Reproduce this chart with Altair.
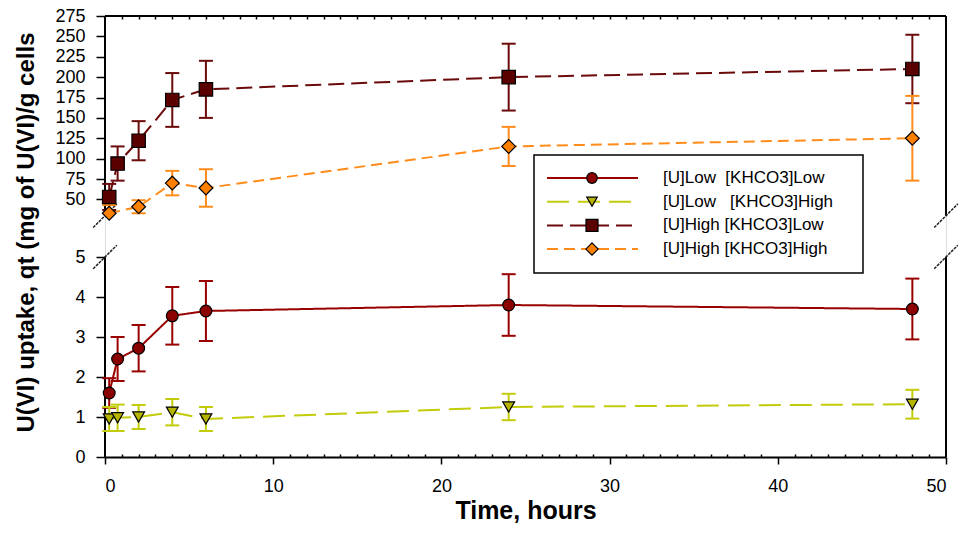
import altair as alt
import pandas as pd

# ---------------- data ----------------
hours = [0.25, 0.75, 2, 4, 6, 24, 48]
hours_hh = [0.25, 2, 4, 6, 24, 48]

ul_kl = [1.6, 2.45, 2.72, 3.53, 3.65, 3.8, 3.7]
ul_kl_err = [0.37, 0.55, 0.58, 0.72, 0.75, 0.77, 0.76]

ul_kh = [0.95, 0.98, 1.0, 1.12, 0.95, 1.25, 1.32]
ul_kh_err = [0.3, 0.33, 0.3, 0.33, 0.3, 0.33, 0.36]

uh_kl = [53, 94, 122, 172, 185, 200, 210]
uh_kl_err = [16, 21, 24, 33, 35, 41, 42]

uh_kh = [33, 41, 70, 64, 115, 125]
uh_kh_err = [10, 8, 15, 23, 24, 52]

series_names = [
    "[U]Low\u00a0\u00a0[KHCO3]Low",
    "[U]Low\u00a0\u00a0\u00a0[KHCO3]High",
    "[U]High\u00a0[KHCO3]Low",
    "[U]High\u00a0[KHCO3]High",
]

x_ticks_major = [0, 10, 20, 30, 40, 50]
y_ticks = [0, 1, 2, 3, 4, 5, 50, 75, 100, 125, 150, 175, 200, 225, 250, 275]
y_domain = [0, 5, 30, 275]          # broken axis: 0-5 and 30-275
minor_hours = list(range(1, 50))

# ---------------- styles ----------------
styles = [
    dict(line="#990000", fill="#8B0000", shape="circle", size=140, dash=[1, 0]),
    dict(line="#C3CC0A", fill="#B5B500", shape="triangle-down", size=140, dash=[22, 9]),
    dict(line="#6B0A0A", fill="#5A0000", shape="square", size=180, dash=[16, 7]),
    dict(line="#FF8C1A", fill="#FF8000", shape="diamond", size=190, dash=[11, 6]),
]

FONT = "Liberation Sans"
W, H = 841, 441
X_SCALE = alt.Scale(domain=[0, 50], nice=False, zero=False)
Y_SCALE = alt.Scale(type="linear", domain=y_domain, range=[H, 241, 199.7, 0],
                    nice=False, zero=False)

X_AXIS = alt.Axis(values=x_ticks_major, tickSize=7, tickWidth=1.5, tickColor="black",
                  domain=True, domainColor="black", domainWidth=2, grid=False,
                  labelFont=FONT, labelFontSize=18, labelColor="black", labelPadding=13,
                  title="Time, hours", titleFont=FONT, titleFontSize=25,
                  titleFontWeight="bold", titleColor="black", titlePadding=3)
Y_AXIS = alt.Axis(values=y_ticks, tickSize=9, tickWidth=1.5, tickColor="black",
                  domain=False, grid=False, format="d",
                  labelFont=FONT, labelFontSize=18, labelColor="black", labelPadding=11,
                  title="U(VI) uptake, qt (mg of U(VI)/g cells",
                  titleFont=FONT, titleFontSize=24, titleFontWeight="bold",
                  titleColor="black", titleX=-79, titleY=216, titleBaseline="middle",
                  titleAngle=-90)


def make_df(ts, vs, es, upper):
    rows = []
    for t, v, e in zip(ts, vs, es):
        lo = v - e
        show_lo = True
        if upper and lo < y_domain[2]:
            lo = y_domain[2]
            show_lo = False
        rows.append(dict(t=t, v=v, lo=lo, hi=v + e, show_lo=show_lo))
    return pd.DataFrame(rows)


dfs = [
    make_df(hours, ul_kl, ul_kl_err, False),
    make_df(hours, ul_kh, ul_kh_err, False),
    make_df(hours, uh_kl, uh_kl_err, True),
    make_df(hours_hh, uh_kh, uh_kh_err, True),
]


def xenc(field="t"):
    return alt.X(f"{field}:Q", scale=X_SCALE, axis=X_AXIS)


def yenc(field="v"):
    return alt.Y(f"{field}:Q", scale=Y_SCALE, axis=Y_AXIS)


layers = []
# frame lines (broken axes)
frame = pd.DataFrame(dict(x=[0, 0, 50, 50], y0=[0, 30, 0, 30], y1=[5, 275, 5, 275]))
layers.append(alt.Chart(frame).mark_rule(color="black", strokeWidth=2).encode(
    x=xenc("x"), y=yenc("y0"), y2="y1"))
top_line = pd.DataFrame(dict(x0=[0], x1=[50], y=[275]))
layers.append(alt.Chart(top_line).mark_rule(color="black", strokeWidth=2).encode(
    x=xenc("x0"), x2="x1", y=yenc("y")))

# break marks
brk = pd.DataFrame(dict(x=[0, 0, 50, 50], y=[5, 30, 5, 30]))
layers.append(alt.Chart(brk).mark_point(shape="M-1,1L1,-1", size=560, filled=False,
                                         stroke="#222222", strokeWidth=1.5, opacity=1,
                                         strokeDash=[3, 1]).encode(
    x=xenc("x"), y=yenc("y")))

# data series
for df, st in zip(dfs, styles):
    layers.append(alt.Chart(df).mark_line(color=st["line"], strokeWidth=2,
                                          strokeDash=st["dash"]).encode(x=xenc(), y=yenc()))
for df, st in zip(dfs, styles):
    base = alt.Chart(df)
    layers.append(base.mark_rule(color=st["line"], strokeWidth=2).encode(
        x=xenc(), y=yenc("lo"), y2="hi"))
    layers.append(base.mark_tick(color=st["line"], orient="horizontal", size=14,
                                 thickness=2, opacity=1).encode(x=xenc(), y=yenc("hi")))
    layers.append(base.transform_filter("datum.show_lo").mark_tick(
        color=st["line"], orient="horizontal", size=14, thickness=2, opacity=1).encode(
        x=xenc(), y=yenc("lo")))
for df, st in zip(dfs, styles):
    layers.append(alt.Chart(df).mark_point(shape=st["shape"], size=st["size"], filled=True,
                                           fill=st["fill"], stroke="black", strokeWidth=1.2,
                                           opacity=1).encode(x=xenc(), y=yenc()))

data_layer = alt.layer(*layers)

# inward minor ticks (top border and bottom axis)
tick_df = pd.DataFrame(dict(t=minor_hours))
top_ticks = alt.Chart(tick_df).mark_point(opacity=0).encode(
    x=alt.X("t:Q", scale=X_SCALE,
            axis=alt.Axis(orient="top", values=minor_hours, tickSize=3, tickWidth=1.5,
                          tickColor="black", offset=-3, domain=False, labels=False,
                          grid=False, title=None)))
bottom_ticks = alt.Chart(tick_df).mark_point(opacity=0).encode(
    x=alt.X("t:Q", scale=X_SCALE,
            axis=alt.Axis(orient="bottom", values=[h for h in minor_hours if h % 10],
                          tickSize=3, tickWidth=1.5, tickColor="black", offset=-3,
                          domain=False, labels=False, grid=False, title=None)))

# legend (drawn manually)
one = pd.DataFrame(dict(a=[0]))
leg = [alt.Chart(one).mark_rect(fill="white", stroke="black", strokeWidth=1.5).encode(
    x=alt.value(429), x2=alt.value(758), y=alt.value(139), y2=alt.value(257))]
for i, (name, st) in enumerate(zip(series_names, styles)):
    yy = 162 + 23.7 * i
    leg.append(alt.Chart(one).mark_rule(color=st["line"], strokeWidth=2,
                                        strokeDash=st["dash"]).encode(
        x=alt.value(442), x2=alt.value(533), y=alt.value(yy)))
    leg.append(alt.Chart(one).mark_point(shape=st["shape"], size=st["size"] * 0.8,
                                         filled=True, fill=st["fill"], stroke="black",
                                         strokeWidth=1.2, opacity=1).encode(
        x=alt.value(487), y=alt.value(yy)))
    leg.append(alt.Chart(one).mark_text(text=name, align="left", baseline="middle",
                                        font=FONT, fontSize=17, color="black").encode(
        x=alt.value(558), y=alt.value(yy)))

chart = alt.layer(data_layer, top_ticks, bottom_ticks, *leg).resolve_axis(
    x="independent"
).properties(
    width=W, height=H,
    autosize=alt.AutoSizeParams(type="none"),
    padding={"left": 105, "top": 16, "right": 24, "bottom": 79},
).configure_view(stroke=None).configure(background="white")

chart.save("out.html", embed_options={"renderer": "svg", "actions": False})
